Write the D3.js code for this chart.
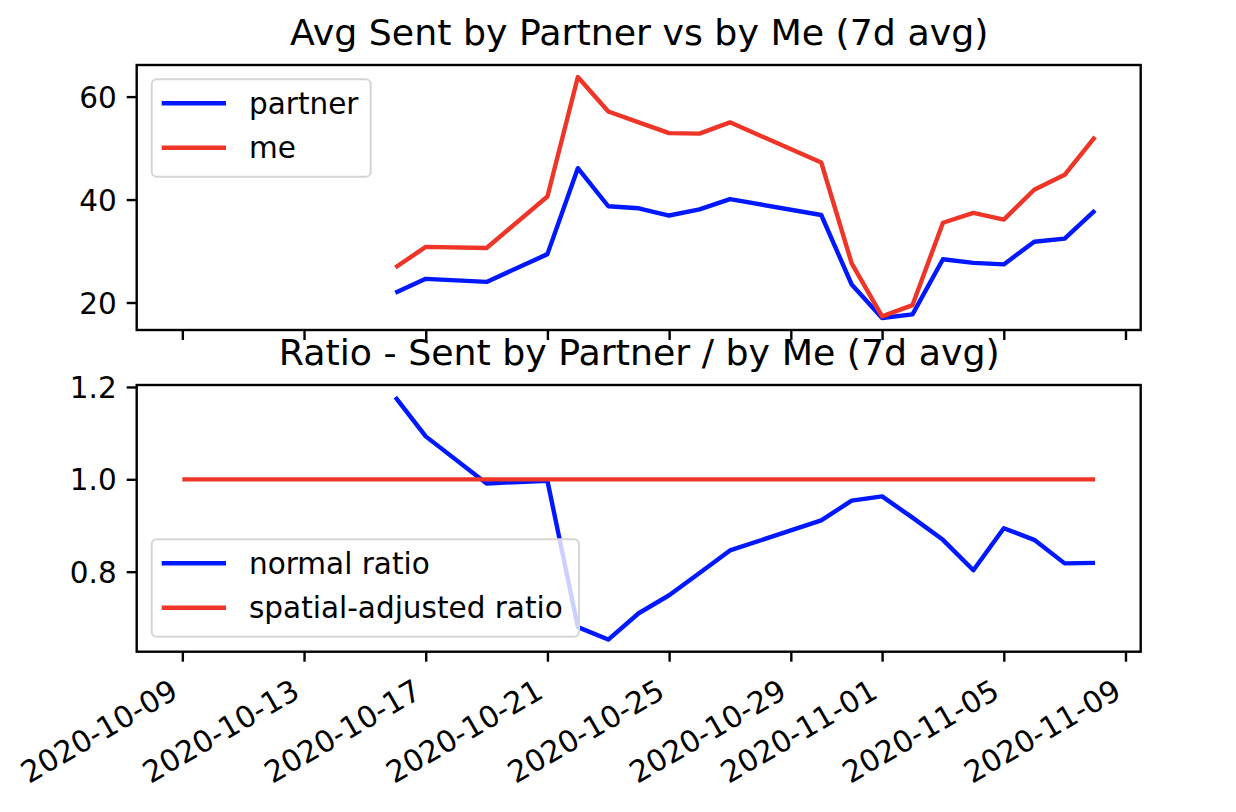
<!DOCTYPE html>
<html>
<head>
<meta charset="utf-8">
<script src="https://cdn.jsdelivr.net/npm/d3@7"></script>
<style>
  body { margin: 0; background: #fff; }
  text { font-family: "DejaVu Sans", sans-serif; fill: #000; }
</style>
</head>
<body>
<svg id="chart" width="1236" height="812"></svg>
<script>
"use strict";

// data
var sentDates = ["2020-10-16","2020-10-17","2020-10-19","2020-10-21","2020-10-22","2020-10-23",
  "2020-10-24","2020-10-25","2020-10-26","2020-10-27","2020-10-30","2020-10-31","2020-11-01",
  "2020-11-02","2020-11-03","2020-11-04","2020-11-05","2020-11-06","2020-11-07","2020-11-08"];
var partner = [21.9, 24.6, 24.0, 29.4, 46.1, 38.7, 38.3, 36.9, 38.1, 40.1,
  37.0, 23.5, 17.0, 17.7, 28.4, 27.7, 27.4, 31.8, 32.4, 37.9];
var me = [26.8, 30.8, 30.6, 40.6, 63.8, 57.1, 55.0, 52.9, 52.8, 55.0,
  47.2, 27.6, 17.3, 19.5, 35.5, 37.4, 36.1, 41.9, 44.8, 52.2];
var normalRatio = [1.178, 1.093, 0.991, 0.997, 0.680, 0.653, 0.710, 0.749, 0.797, 0.846,
  0.911, 0.954, 0.963, 0.917, 0.869, 0.803, 0.894, 0.869, 0.818, 0.819];
var spatialDates = ["2020-10-09", "2020-11-08"];
var spatialRatio = [1.0, 1.0];

var xTickDates = ["2020-10-09","2020-10-13","2020-10-17","2020-10-21","2020-10-25",
  "2020-10-29","2020-11-01","2020-11-05","2020-11-09"];
var topTicks = [20, 40, 60];
var bottomTicks = [0.8, 1.0, 1.2];

var BLUE = "#0018ff", RED = "#ee3527";
var parse = d3.utcParse("%Y-%m-%d");

var svg = d3.select("#chart");
svg.append("rect").attr("width", 1236).attr("height", 812).attr("fill", "#fff");

var left = 136.7, right = 1140.7;
var panels = [
  {top: 65, bottom: 330, title: "Avg Sent by Partner vs by Me (7d avg)", ticks: topTicks,
   fmt: d3.format("d"),
   series: [{name: "partner", dates: sentDates, values: partner, color: BLUE},
            {name: "me", dates: sentDates, values: me, color: RED}],
   legend: {x: 151.7, y: 79.3, w: 219, h: 97.4}, xLabels: false},
  {top: 385, bottom: 651.7, title: "Ratio - Sent by Partner / by Me (7d avg)", ticks: bottomTicks,
   fmt: d3.format(".1f"),
   series: [{name: "normal ratio", dates: sentDates, values: normalRatio, color: BLUE},
            {name: "spatial-adjusted ratio", dates: spatialDates, values: spatialRatio, color: RED}],
   legend: {x: 151.7, y: 539.3, w: 427.3, h: 97.4}, xLabels: true}
];

// shared x domain (matplotlib style 5% margins)
var allDates = sentDates.concat(spatialDates).map(parse);
var xExt = d3.extent(allDates);
var xPad = (xExt[1] - xExt[0]) * 0.05;
var x = d3.scaleUtc()
    .domain([new Date(+xExt[0] - xPad), new Date(+xExt[1] + xPad)])
    .range([left, right]);

panels.forEach(function(p) {
  var vals = d3.merge(p.series.map(s => s.values));
  var ext = d3.extent(vals);
  var pad = (ext[1] - ext[0]) * 0.05;
  var y = d3.scaleLinear().domain([ext[0] - pad, ext[1] + pad]).range([p.bottom, p.top]);

  var g = svg.append("g");

  // lines
  var line = d3.line().x(d => x(d[0])).y(d => y(d[1]));
  p.series.forEach(function(s) {
    g.append("path")
        .datum(s.dates.map((d, i) => [parse(d), s.values[i]]))
        .attr("fill", "none")
        .attr("stroke", s.color)
        .attr("stroke-width", 4.4)
        .attr("stroke-linejoin", "round")
        .attr("d", line);
  });

  // spines
  g.append("rect")
      .attr("x", left).attr("y", p.top)
      .attr("width", right - left).attr("height", p.bottom - p.top)
      .attr("fill", "none").attr("stroke", "#000").attr("stroke-width", 2.4);

  // y axis
  var yAxis = g.append("g")
      .attr("transform", `translate(${left},0)`)
      .call(d3.axisLeft(y).tickValues(p.ticks).tickFormat(p.fmt).tickSize(10).tickPadding(10));
  yAxis.select(".domain").remove();
  yAxis.selectAll("line").attr("stroke", "#000").attr("stroke-width", 2.4);
  yAxis.selectAll("text").attr("font-size", 29.5).attr("font-family", "DejaVu Sans")
      .attr("dy", "0.36em");

  // x axis
  var xAxis = g.append("g")
      .attr("transform", `translate(0,${p.bottom})`)
      .call(d3.axisBottom(x).tickValues(xTickDates.map(parse)).tickSize(10)
        .tickFormat(p.xLabels ? d3.utcFormat("%Y-%m-%d") : ""));
  xAxis.select(".domain").remove();
  xAxis.selectAll("line").attr("stroke", "#000").attr("stroke-width", 2.4);
  if (p.xLabels) {
    // rotated 30 degrees, right aligned at the tick
    xAxis.selectAll("text")
        .attr("font-size", 30)
        .attr("font-family", "DejaVu Sans")
        .attr("text-anchor", "end")
        .attr("dy", null)
        .attr("y", null)
        .attr("transform", "translate(-3,45) rotate(-30)");
  } else {
    xAxis.selectAll("text").remove();
  }

  // title
  g.append("text")
      .attr("x", (left + right) / 2 + 0.5)
      .attr("y", p.top - 20)
      .attr("text-anchor", "middle")
      .attr("font-size", 36.3)
      .text(p.title);

  // legend
  var L = p.legend;
  var leg = g.append("g");
  leg.append("rect")
      .attr("x", L.x).attr("y", L.y).attr("width", L.w).attr("height", L.h)
      .attr("rx", 5)
      .attr("fill", "#fff").attr("fill-opacity", 0.8)
      .attr("stroke", "#d5d5d5").attr("stroke-width", 2);
  p.series.forEach(function(s, i) {
    var ly = L.y + 24 + i * 44.4;
    leg.append("line")
        .attr("x1", L.x + 10).attr("x2", L.x + 74.3)
        .attr("y1", ly).attr("y2", ly)
        .attr("stroke", s.color).attr("stroke-width", 4.4);
    leg.append("text")
        .attr("x", L.x + 97.3).attr("y", ly)
        .attr("dy", "0.36em")
        .attr("font-size", 29.5)
        .text(s.name);
  });
});
</script>
</body>
</html>
